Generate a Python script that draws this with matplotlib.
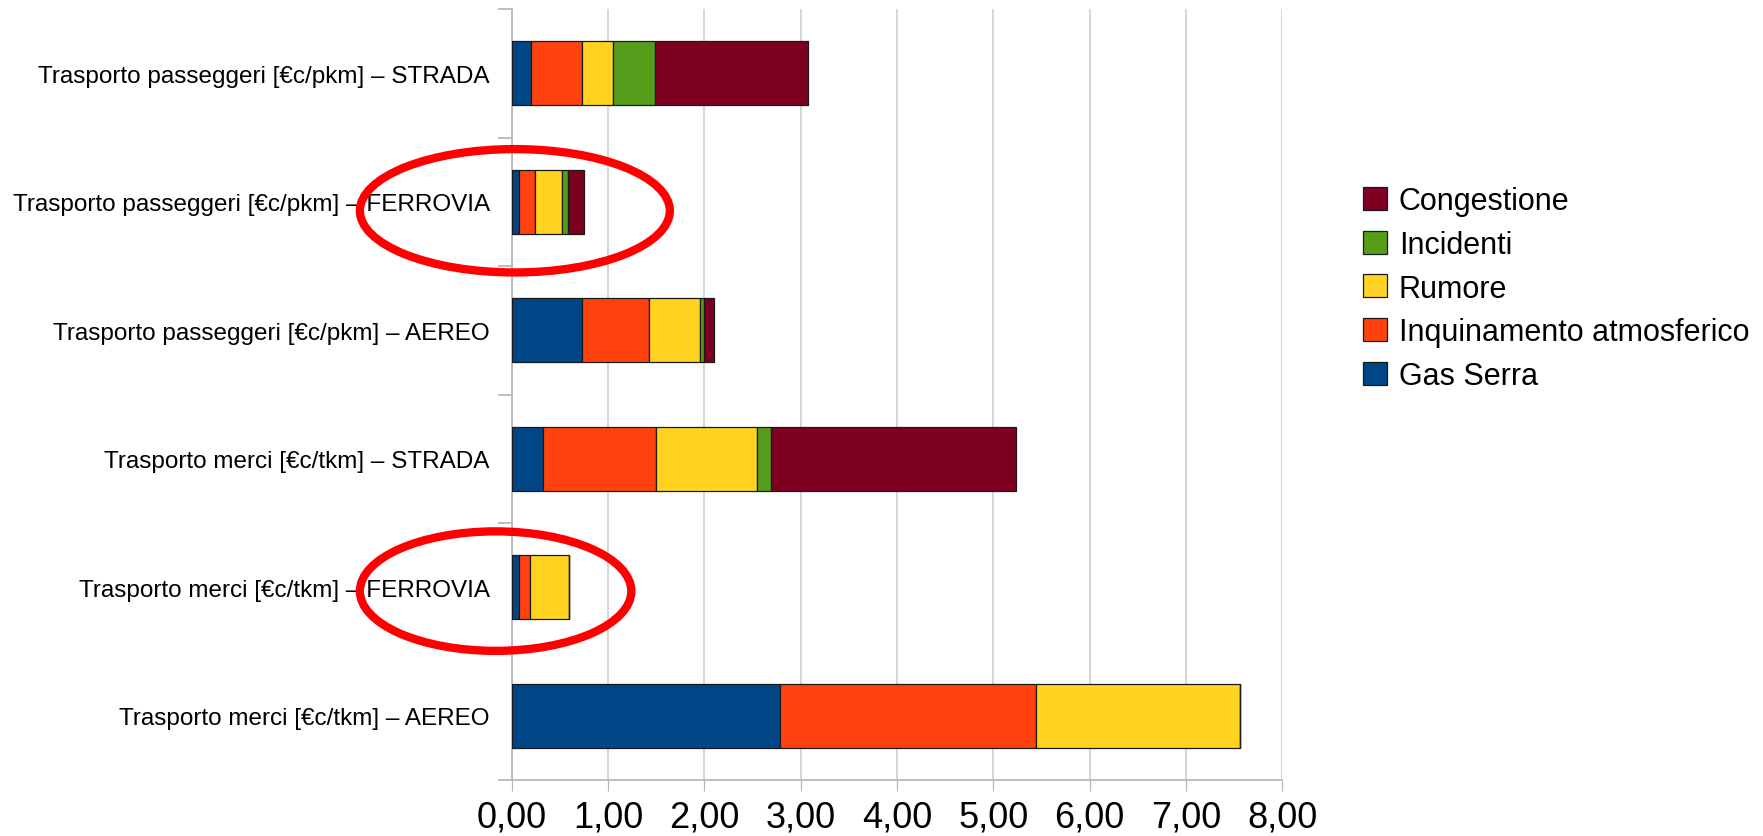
import numpy as np
import matplotlib.pyplot as plt
from matplotlib.patches import Ellipse
from matplotlib.ticker import FixedLocator

plt.rcParams['font.family'] = ['Liberation Sans', 'DejaVu Sans']

# categories (top to bottom) and external cost components
categories = [
    'Trasporto passeggeri [€c/pkm] – STRADA',
    'Trasporto passeggeri [€c/pkm] – FERROVIA',
    'Trasporto passeggeri [€c/pkm] – AEREO',
    'Trasporto merci [€c/tkm] – STRADA',
    'Trasporto merci [€c/tkm] – FERROVIA',
    'Trasporto merci [€c/tkm] – AEREO',
]
gas_serra = [0.20, 0.07, 0.73, 0.32, 0.07, 2.78]
inquinamento = [0.53, 0.165, 0.695, 1.18, 0.115, 2.66]
rumore = [0.32, 0.28, 0.53, 1.05, 0.41, 2.12]
incidenti = [0.44, 0.065, 0.04, 0.14, 0.0, 0.0]
congestione = [1.59, 0.17, 0.10, 2.55, 0.0, 0.0]

series = [
    ('Gas Serra', gas_serra, '#004586'),
    ('Inquinamento atmosferico', inquinamento, '#ff420e'),
    ('Rumore', rumore, '#ffd320'),
    ('Incidenti', incidenti, '#579d1c'),
    ('Congestione', congestione, '#7e0021'),
]
x_ticks = [0, 1, 2, 3, 4, 5, 6, 7, 8]

fig = plt.figure(figsize=(17.63, 8.37), dpi=100)
ax = fig.add_axes([0.2904, 0.0669, 0.4368, 0.9211])

y = np.arange(len(categories))
left = np.zeros(len(categories))
handles = []
for name, vals, col in series:
    vals = np.array(vals)
    b = ax.barh(y, vals, left=left, height=0.5, color=col,
                edgecolor='#1a1a1a', linewidth=0.9, label=name, zorder=3)
    handles.append(b)
    left += vals

ax.set_xlim(0, 8)
ax.set_ylim(len(categories) - 0.5, -0.5)

ax.set_xticks(x_ticks)
ax.set_xticklabels([f'{v:.2f}'.replace('.', ',') for v in x_ticks], fontsize=26)
ax.tick_params(axis='x', length=8, color='#b3b3b3', pad=6)
ax.xaxis.grid(True, color='#cfcfcf', linewidth=1.2, zorder=0)

ax.set_yticks(y)
ax.set_yticklabels(categories, fontsize=17.5)
ax.tick_params(axis='y', which='major', length=0, pad=16)
ax.yaxis.set_minor_locator(FixedLocator(np.arange(-0.5, len(categories), 1.0)))
ax.tick_params(axis='y', which='minor', length=10, color='#b3b3b3', width=1.2)

for s in ['top', 'right']:
    ax.spines[s].set_visible(False)
for s in ['left', 'bottom']:
    ax.spines[s].set_color('#b3b3b3')
    ax.spines[s].set_linewidth(1.2)

leg = fig.legend(handles[::-1], [h.get_label() for h in handles[::-1]],
                 loc='center left', bbox_to_anchor=(0.773, 0.654),
                 frameon=False, fontsize=22, handlelength=0.78,
                 handleheight=0.78, handletextpad=0.4, labelspacing=0.45,
                 borderpad=0, borderaxespad=0)

# red circles highlighting the railway rows
for cy, cx, w, h in [(1.07, 0.03, 3.22, 0.96), (4.03, -0.17, 2.82, 0.93)]:
    e = Ellipse((cx, cy), w, h, fill=False, edgecolor='#ff0000',
                linewidth=6, clip_on=False, zorder=10)
    ax.add_patch(e)

fig.savefig('out.png', dpi=100)
